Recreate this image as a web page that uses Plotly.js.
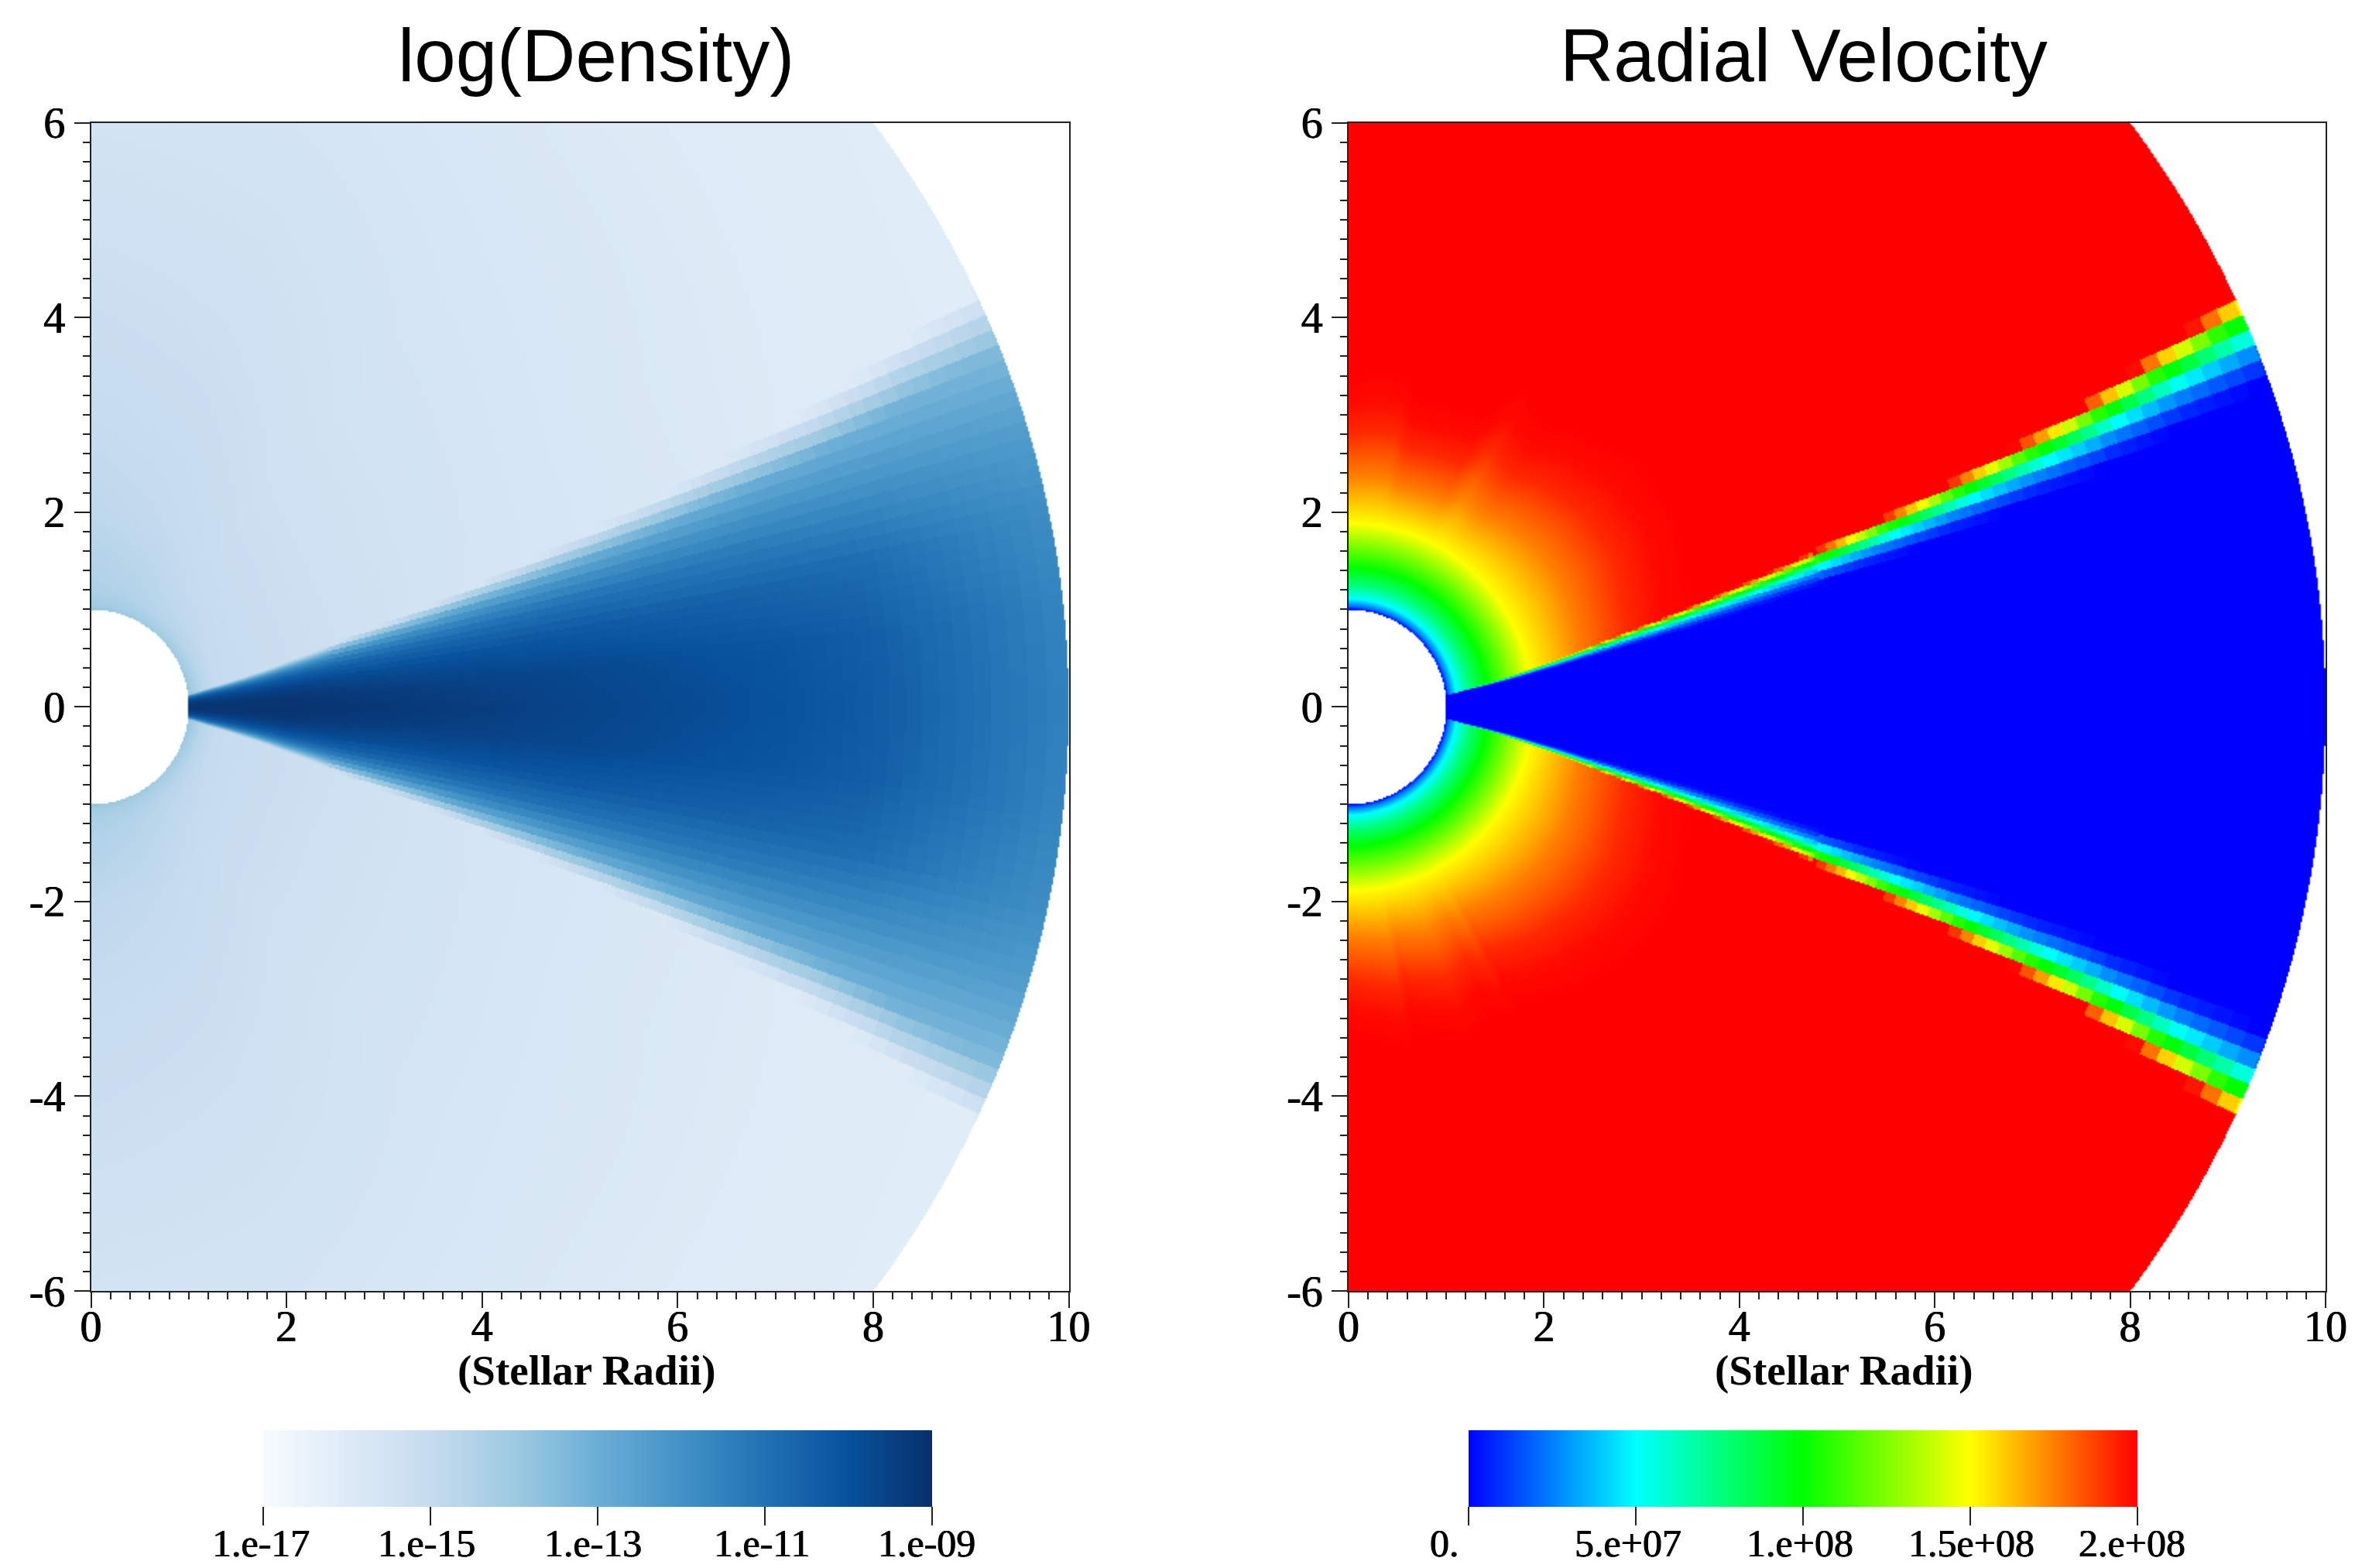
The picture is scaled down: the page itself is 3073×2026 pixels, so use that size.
<!DOCTYPE html>
<html><head><meta charset="utf-8">
<script src="https://cdn.plot.ly/plotly-3.0.1.min.js"></script>
<style>html,body{margin:0;padding:0;background:#fff}#g{width:3073px;height:2026px}</style></head>
<body><div id="g"></div>
<script>
// ---- values ----
const xTickVals = [0,2,4,6,8,10];
const yTickVals = [-6,-4,-2,0,2,4,6];
const yTickText = ['-6','-4','-2','0','2','4','6'];
const densityCbVals = [-17,-15,-13,-11,-9];
const densityCbText = ['1.e-17','1.e-15','1.e-13','1.e-11','1.e-09'];
const velocityCbVals = [0,5e7,1e8,1.5e8,2e8];
const velocityCbText = ['0.','5.e+07','1.e+08','1.5e+08','2.e+08'];
const bluesStops = [[0,'#f7fbff'],[0.125,'#deebf7'],[0.25,'#c6dbef'],[0.375,'#9ecae1'],[0.5,'#6baed6'],[0.625,'#4292c6'],[0.75,'#2171b5'],[0.875,'#08519c'],[1,'#08306b']];
const rainbowStops = [[0,'#0000ff'],[0.25,'#00ffff'],[0.5,'#00ff00'],[0.75,'#ffff00'],[1,'#ff0000']];

// disk surface: angle above the equator (deg) against radius
const edgeR     = [1,1.2,1.5,2,2.5,3,4,5,6,7,8,9,10];
const edgeTop   = [7,8.5,10,12,13.5,14.6,16.2,17.6,18.8,20,21.1,22.5,23.7];
const bandR     = [1,1.5,2,3,4,5,7,10];
const bandWidth = [0.2,1,1.5,2.2,2.7,3,3.4,4.1];

// log density in the disk: rows diskR, columns diskU (fraction of the surface angle)
const diskR = [1,2,3,5,7,8,9,10];
const diskU = [0,0.25,0.5,0.7,0.83,0.92,1];
const diskLog = [
 [-9.1,-9.2,-9.6,-10.2,-11,-12,-13.5],
 [-9.1,-9.2,-9.6,-10.3,-11.2,-12.2,-13.6],
 [-9.2,-9.4,-9.9,-10.7,-11.6,-12.6,-13.9],
 [-9.6,-9.7,-10.2,-11,-11.9,-12.8,-14.2],
 [-10,-10.1,-10.6,-11.4,-12.2,-12.9,-14.4],
 [-10.3,-10.4,-10.8,-11.7,-12.4,-13,-14.6],
 [-10.9,-11,-11.4,-12.1,-12.7,-13.2,-14.6],
 [-11.5,-11.6,-11.9,-12.4,-13,-13.5,-14.8]];

// log density in the wind: rows windA (deg), columns windR
const windA = [15,30,50,70,90];
const windR = [1,1.05,1.15,1.3,1.6,2,3,4,6,8,10];
const windLog = [
 [-13.8,-14.2,-14.7,-15,-15.1,-15.2,-15.4,-15.6,-15.8,-16,-16.1],
 [-14,-14.3,-14.7,-14.95,-15.1,-15.2,-15.4,-15.55,-15.8,-15.95,-16.1],
 [-14,-14.3,-14.6,-14.8,-15,-15.15,-15.35,-15.5,-15.7,-15.9,-16.05],
 [-13.9,-14.2,-14.45,-14.6,-14.75,-14.95,-15.15,-15.3,-15.55,-15.8,-16],
 [-13.8,-14.1,-14.3,-14.45,-14.6,-14.8,-15.05,-15.2,-15.5,-15.75,-15.95]];

// radial velocity in the wind against radius, cm/s
const velR = [1,1.03,1.11,1.25,1.43,1.65,1.885,2.36,2.8,3.1,3.4,20];
const velV = [0,2e7,5e7,7.6e7,1e8,1.24e8,1.5e8,1.75e8,1.92e8,1.98e8,2e8,2e8];
// radial stretch of the acceleration zone beyond r = 1.9, by angle (streaks)
const stretchA = [10,20,30,40,50,55,59,60.5,62,65,70,77,78.5,80,85,90];
const stretchN = [0.9,0.82,0.74,0.74,0.82,0.9,0.85,0.8,0.85,1.05,1.08,1.1,1.05,0.95,0.95,1];
const stretchS = [0.9,0.82,0.74,0.74,0.8,0.85,0.9,0.95,0.85,0.95,0.85,0.95,1,0.88,0.95,1];
// velocity across the disk surface band: position in band against velocity
const bandU = [0,0.2,0.45,0.66,0.93,1,1.3];
const bandV = [0,8e6,2.6e7,5e7,1e8,1.1e8,2e8];

// ---- table lookups ----
function look(xs,ys,x){
  if(x<=xs[0])return ys[0];
  for(let i=1;i<xs.length;i++) if(x<=xs[i]) return ys[i-1]+(ys[i]-ys[i-1])*(x-xs[i-1])/(xs[i]-xs[i-1]);
  return ys[ys.length-1];
}
function look2(rows,cols,tab,a,b){
  const col=tab.map(t=>look(cols,t,b));
  return look(rows,col,a);
}
function windDensity(r,th){return look2(windA,windR,windLog,Math.max(th,15),r);}
function density(r,th){
  const e=look(edgeR,edgeTop,r), u=th/e;
  if(u>=1.07) return windDensity(r,th);
  const d=look2(diskR,diskU,diskLog,r,Math.min(u,1));
  if(u<=1) return d;
  return d+(windDensity(r,th)-d)*(u-1)/0.07;
}
function windVel(r,th,sign){
  const s=look(stretchA,sign>0?stretchN:stretchS,th);
  const re=r>1.9?1.9+(r-1.9)*s:r;
  return look(velR,velV,re);
}
function velocity(r,th,sign){
  const top=look(edgeR,edgeTop,r), w=look(bandR,bandWidth,r);
  const u=(th-(top-w))/w;
  const wind=windVel(r,th,sign);
  if(u<=0) return 0;
  if(u>=1.3) return wind;
  return Math.min(wind,look(bandU,bandV,u));
}
// simulation cells
function cell(r,th,dth){
  if(r<2.5) return [r,th];
  const e=0.02;
  return [Math.exp((Math.floor(Math.log(r)/e)+0.5)*e),(Math.floor(th/dth)+0.5)*dth];
}
// ---- sample the tables on the plot raster ----
const step=0.016;
const xs=[],ys=[];
for(let i=0;i<625;i++)xs.push((i+0.5)*step);
for(let j=0;j<750;j++)ys.push(-6+(j+0.5)*step);
const zD=[],zV=[];
for(const y of ys){
  const a=[],b=[];
  for(const x of xs){
    const r=Math.hypot(x,y);
    if(r<1||r>10){a.push(null);b.push(null);continue;}
    const th=Math.atan2(Math.abs(y),x)*180/Math.PI;
    const near=th<look(edgeR,edgeTop,r)+3;
    const c1=near?cell(r,th,0.95):[r,th];
    const c2=near?cell(r,th,r<5?0.5:0.95):[r,th];
    a.push(density(c1[0],c1[1]));
    b.push(velocity(c2[0],c2[1],y>=0?1:-1));
  }
  zD.push(a);zV.push(b);
}
const serif='"Liberation Serif",serif';
const heavy='0.5px 0 0 #000, -0.5px 0 0 #000';
function cb(cx,vals){return {orientation:'h',lenmode:'pixels',len:864,thicknessmode:'pixels',thickness:99,
  x:cx/3073,xanchor:'center',y:1-1848/2026,yanchor:'top',xpad:0,ypad:0,outlinewidth:0,
  ticks:'outside',ticklen:24,tickwidth:1.5,tickcolor:'#222',tickmode:'array',tickvals:vals,showticklabels:false};}
const traces=[
 {type:'heatmap',x:xs,y:ys,z:zD,zmin:-17,zmax:-9,colorscale:bluesStops,zsmooth:'fast',xaxis:'x',yaxis:'y',colorbar:cb(772,densityCbVals),hoverongaps:false},
 {type:'heatmap',x:xs,y:ys,z:zV,zmin:0,zmax:2e8,colorscale:rainbowStops,zsmooth:'fast',xaxis:'x2',yaxis:'y2',colorbar:cb(2329,velocityCbVals),hoverongaps:false}
];
const tickFont={family:serif,size:56,color:'#000',shadow:heavy};
function xa(l,r,anchor){return {domain:[l/3073,r/3073],range:[0,10],anchor:anchor,showgrid:false,zeroline:false,showline:true,linecolor:'#222',linewidth:2,mirror:true,
  ticks:'outside',ticklen:20,tickwidth:2,tickcolor:'#222',tickmode:'array',tickvals:xTickVals,tickfont:tickFont,ticklabelstandoff:-24,
  minor:{dtick:0.2,ticks:'outside',ticklen:9,tickwidth:2,tickcolor:'#222',showgrid:false}};}
function ya(anchor){return {domain:[1-1668/2026,1-158.5/2026],range:[-6,6],anchor:anchor,showgrid:false,zeroline:false,showline:true,linecolor:'#222',linewidth:2,mirror:true,
  ticks:'outside',ticklen:20,tickwidth:2,tickcolor:'#222',tickmode:'array',tickvals:yTickVals,ticktext:yTickText,tickfont:tickFont,
  minor:{dtick:0.2,ticks:'outside',ticklen:9,tickwidth:2,tickcolor:'#222',showgrid:false}};}
function label(text,px,py,font){return {text:text,xref:'paper',yref:'paper',x:px/3073,y:1-py/2026,xanchor:'center',yanchor:'middle',showarrow:false,font:font};}
const sans={family:'"Liberation Sans",sans-serif',size:96,color:'#000'};
const axisFont={family:serif,size:55,color:'#000'};
const cbFont={family:serif,size:50,color:'#000',shadow:heavy};
const leftLabelX=[337,551,766,984,1197];
const rightLabelX=[1866,2103,2325,2546,2754];
const layout={width:3073,height:2026,margin:{l:0,r:0,t:0,b:0,autoexpand:false},paper_bgcolor:'#fff',plot_bgcolor:'#fff',showlegend:false,
 xaxis:xa(117.5,1380.5,'y'),yaxis:ya('x'),xaxis2:xa(1742,3004,'y2'),yaxis2:ya('x2'),
 annotations:[
  label('log(Density)',770,72,sans),
  label('Radial Velocity',2330,72,sans),
  label('<b>(Stellar Radii)</b>',758,1770,axisFont),
  label('<b>(Stellar Radii)</b>',2382,1770,axisFont)
 ].concat(densityCbText.map((t,i)=>label(t,leftLabelX[i],1994,cbFont)),velocityCbText.map((t,i)=>label(t,rightLabelX[i],1994,cbFont)))};
Plotly.newPlot('g',traces,layout,{staticPlot:true,displayModeBar:false});
</script></body></html>
